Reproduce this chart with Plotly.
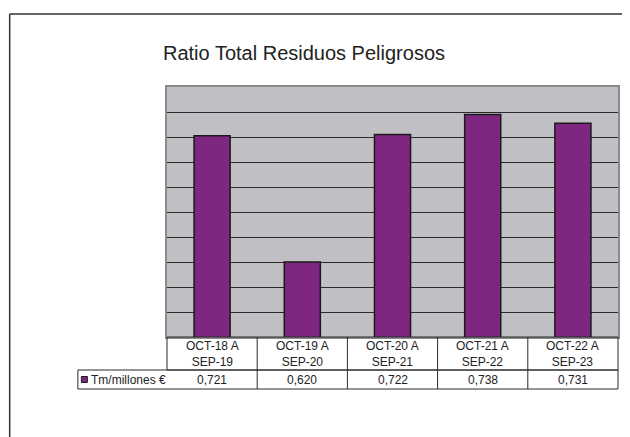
import plotly.graph_objects as go

TITLE = "Ratio Total Residuos Peligrosos"
SERIES_NAME = "Tm/millones €"
PERIODS = ["OCT-18 A<br>SEP-19", "OCT-19 A<br>SEP-20", "OCT-20 A<br>SEP-21",
           "OCT-21 A<br>SEP-22", "OCT-22 A<br>SEP-23"]
RATIO = [0.721, 0.620, 0.722, 0.738, 0.731]

FONT = "Liberation Sans, Arial, sans-serif"
BAR_COLOR = "#7E2680"
LINE = "#2a2a2a"

# page body adds an 8px offset, so the figure is 8px smaller than the window
HEADER_BOTTOM = -0.132
VALUE_BOTTOM = -0.208
LEGEND_LEFT = -0.1976

fig = go.Figure(
    go.Bar(
        x=PERIODS,
        y=RATIO,
        name=SERIES_NAME,
        marker={"color": BAR_COLOR, "line": {"color": "#1a1a1a", "width": 1.5}},
        width=0.4,
    )
)

shapes = []
# table rows
shapes.append(dict(type="rect", xref="paper", yref="paper", x0=0, x1=1,
                   y0=HEADER_BOTTOM, y1=0, line={"color": LINE, "width": 1}))
shapes.append(dict(type="rect", xref="paper", yref="paper", x0=LEGEND_LEFT, x1=1,
                   y0=VALUE_BOTTOM, y1=HEADER_BOTTOM, line={"color": LINE, "width": 1}))
n = len(PERIODS)
for i in range(1, n):
    shapes.append(dict(type="line", xref="paper", yref="paper", x0=i / n, x1=i / n,
                       y0=VALUE_BOTTOM, y1=0, line={"color": LINE, "width": 1}))
# legend key
shapes.append(dict(type="rect", xref="paper", yref="paper", x0=-0.1898, x1=-0.1766,
                   y0=-0.182, y1=-0.158, fillcolor=BAR_COLOR,
                   line={"color": "#1a1a1a", "width": 1}))
# outer chart frame (left and top edges)
shapes.append(dict(type="line", xref="paper", yref="paper", x0=-0.3488, x1=-0.3488,
                   y0=-0.45, y1=1.292, line={"color": "#333", "width": 1.5}))
shapes.append(dict(type="line", xref="paper", yref="paper", x0=-0.3488, x1=1.05,
                   y0=1.292, y1=1.292, line={"color": "#333", "width": 1.5}))

annotations = []
for p, v in zip(PERIODS, RATIO):
    annotations.append(dict(x=p, xref="x", y=HEADER_BOTTOM / 2, yref="paper",
                            xanchor="center", yanchor="middle",
                            text=p, showarrow=False, align="center",
                            font={"size": 12, "color": "#222"}))
    annotations.append(dict(x=p, xref="x", y=(HEADER_BOTTOM + VALUE_BOTTOM) / 2,
                            yref="paper", xanchor="center", yanchor="middle",
                            text=f"{v:.3f}".replace(".", ","),
                            showarrow=False, font={"size": 12, "color": "#222"}))
annotations.append(dict(x=-0.174, xref="paper", y=(HEADER_BOTTOM + VALUE_BOTTOM) / 2,
                        yref="paper", xanchor="left", yanchor="middle",
                        text=SERIES_NAME,
                        showarrow=False, font={"size": 12, "color": "#222"}))

fig.update_layout(
    width=622,
    height=429,
    margin={"l": 159, "r": 10, "t": 79, "b": 100},
    paper_bgcolor="white",
    plot_bgcolor="#C0C0C4",
    font={"family": FONT, "color": "#222"},
    showlegend=False,
    title={"text": TITLE, "x": 155 / 622, "xanchor": "left", "xref": "container",
           "y": 1 - 45 / 429, "yanchor": "middle",
           "font": {"size": 20, "color": "#222"}},
    shapes=shapes,
    annotations=annotations,
)
fig.update_xaxes(showticklabels=False, showgrid=False, ticks="",
                 showline=True, mirror=True, linecolor="#8a8a8a", linewidth=2)
fig.update_yaxes(range=[0.56, 0.76], tick0=0.56, dtick=0.02, showticklabels=False,
                 gridcolor=LINE, gridwidth=1, zeroline=False, ticks="",
                 showline=True, mirror=True, linecolor="#8a8a8a", linewidth=2)

fig.write_html("out.html")
